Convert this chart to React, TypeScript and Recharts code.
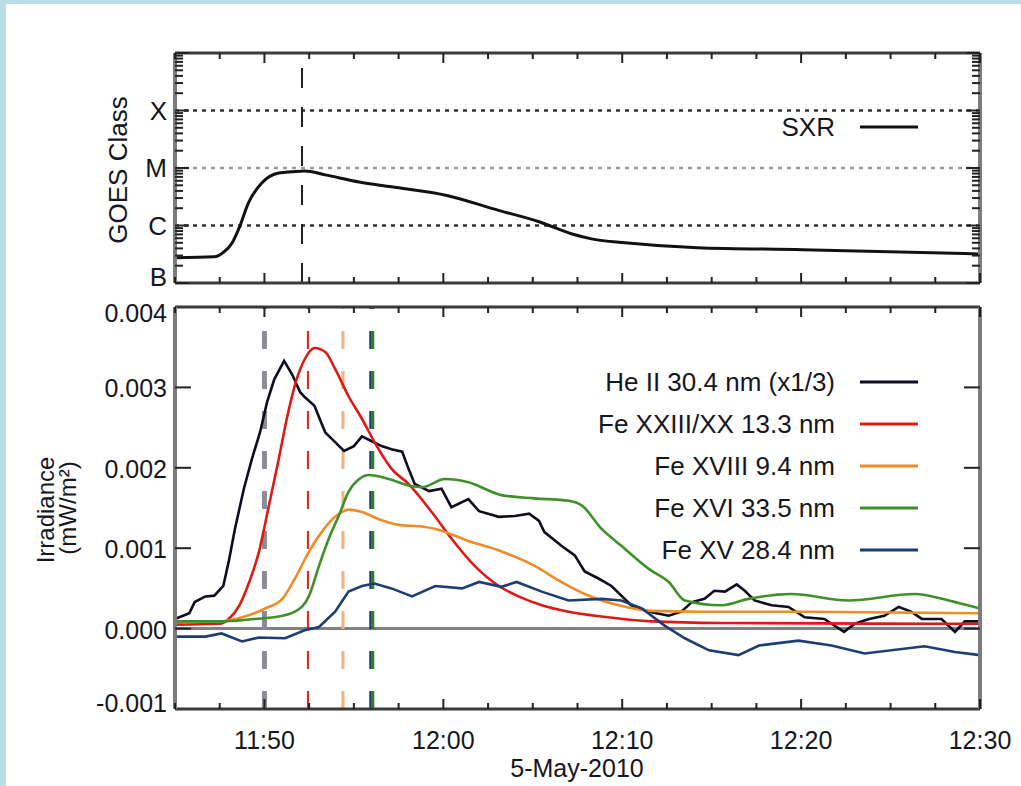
import React from "react";
import { LineChart, Line, XAxis, YAxis, ReferenceLine, Legend } from "recharts";

// time is in minutes after 11:45 UT, 5-May-2010
const timeTicks = [0, 2.5, 5, 7.5, 10, 12.5, 15, 17.5, 20, 22.5, 25, 27.5, 30, 32.5, 35, 37.5, 40, 42.5, 45];
const labelledTimes = [5, 15, 25, 35, 45];
const timeLabels = ["11:50", "12:00", "12:10", "12:20", "12:30"];
const dateLabel = "5-May-2010";

// GOES panel
const goesLevels = [1e-7, 1e-6, 1e-5, 1e-4];
const goesClasses = ["B", "C", "M", "X"];
const goesMinor = [2, 3, 4, 5, 6, 7, 8, 9];
const sxrTime = [0, 2.2, 2.7, 3.2, 3.6, 4.1, 4.85, 5.8, 6.55, 7.25, 8.4, 10.3, 12.1, 15.25, 18.05, 20.4, 22.2, 23.35, 25.15, 29.2, 35.1, 45];
const sxrFlux = [2.75e-7, 2.85e-7, 3.4e-7, 5.0e-7, 9.3e-7, 2.45e-6, 5.5e-6, 8.2e-6, 8.6e-6, 8.9e-6, 7.6e-6, 5.7e-6, 4.7e-6, 3.3e-6, 1.85e-6, 1.15e-6, 7.1e-7, 5.8e-7, 5.0e-7, 4.1e-7, 3.8e-7, 3.2e-7];
const sxrPeakTime = 7.1;

// irradiance panel, [minute, irradiance]
const irrTicks = [-0.001, 0, 0.001, 0.002, 0.003, 0.004];
const heII = [
  [0, 0.00012], [0.8, 0.00019], [1.1, 0.00033], [1.7, 0.0004], [2.2, 0.00041], [2.7, 0.00053], [3.0, 0.00083],
  [3.35, 0.00124], [3.85, 0.00174], [4.3, 0.00211], [4.75, 0.00244], [5.15, 0.00282], [5.55, 0.0031], [6.1, 0.00333],
  [6.55, 0.00316], [7.0, 0.00294], [7.25, 0.00288], [7.8, 0.00277], [8.4, 0.00244], [8.95, 0.00232], [9.45, 0.00221],
  [10.0, 0.00227], [10.45, 0.00239], [11.0, 0.00233], [11.55, 0.00227], [12.1, 0.00223], [12.7, 0.0022], [13.05, 0.00199],
  [13.4, 0.0018], [14.2, 0.00171], [14.9, 0.00174], [15.45, 0.00151], [16.4, 0.00161], [17.0, 0.00146], [18.1, 0.00139],
  [19.0, 0.0014], [19.8, 0.00143], [20.35, 0.00134], [20.65, 0.0012], [21.6, 0.00103], [22.35, 0.00091], [22.9, 0.00071],
  [23.7, 0.00062], [24.4, 0.00053], [24.95, 0.00041], [25.5, 0.00029], [26.5, 0.00021], [27.6, 0.00016], [28.3, 0.00021],
  [28.9, 0.00033], [29.6, 0.00037], [30.15, 0.00047], [30.75, 0.00046], [31.4, 0.00055], [31.85, 0.00047], [32.4, 0.00035],
  [33.35, 0.00029], [34.3, 0.00027], [35.2, 0.00014], [36.3, 0.00012], [37.4, -0.00004], [38.0, 0.00006], [38.8, 0.00012],
  [39.65, 0.00016], [40.45, 0.00027], [41.15, 0.00021], [41.75, 0.00012], [42.85, 0.00012], [43.6, -0.00004], [44.15, 0.00009],
  [45, 0.00009],
];
const feXXIII = [
  [0, 0.00005], [2.5, 0.00006], [3.0, 0.00012], [3.6, 0.00029], [4.15, 0.00058], [4.7, 0.00096], [5.25, 0.00153],
  [5.8, 0.00211], [6.25, 0.00261], [6.8, 0.0031], [7.25, 0.00335], [7.8, 0.00349], [8.4, 0.00344], [8.95, 0.00323],
  [9.7, 0.00289], [10.45, 0.00261], [11.15, 0.00232], [12.1, 0.00199], [13.05, 0.0018], [14.35, 0.00145], [15.45, 0.00112],
  [16.75, 0.00078], [18.1, 0.00053], [19.2, 0.0004], [20.5, 0.00029], [22.0, 0.00021], [23.85, 0.00015], [26.65, 0.00009],
  [30.55, 0.00007], [45, 0.00006],
];
const feXVIII = [
  [0, 0.00009], [2.6, 0.00009], [3.9, 0.00015], [5.05, 0.00025], [6.0, 0.00037], [6.7, 0.00062], [7.5, 0.00096],
  [8.2, 0.0012], [8.95, 0.00139], [9.7, 0.00148], [10.45, 0.00145], [11.4, 0.00136], [12.5, 0.00129], [13.8, 0.00127],
  [14.55, 0.00124], [16.4, 0.00109], [18.25, 0.00096], [20.1, 0.00078], [21.6, 0.00058], [22.9, 0.00043], [24.8, 0.00029],
  [26.65, 0.00022], [29.45, 0.00021], [35, 0.00021], [45, 0.00019],
];
const feXVI = [
  [0, 0.00009], [2.6, 0.00009], [4.45, 0.00012], [5.8, 0.00015], [6.7, 0.00021], [7.5, 0.00041], [8.05, 0.00078],
  [8.6, 0.00112], [9.15, 0.0014], [9.7, 0.0017], [10.3, 0.00186], [10.85, 0.00191], [11.95, 0.00186], [13.25, 0.00177],
  [13.8, 0.00176], [15.1, 0.00186], [16.4, 0.00182], [18.25, 0.00166], [20.1, 0.00162], [22.0, 0.00159], [22.75, 0.00153],
  [23.85, 0.00124], [24.95, 0.00103], [26.5, 0.00074], [27.6, 0.00058], [28.5, 0.00035], [30.55, 0.00029], [32.05, 0.00037],
  [34.45, 0.00043], [37.65, 0.00035], [41.35, 0.00043], [43.25, 0.00035], [45, 0.00025],
];
const feXV = [
  [0, -0.0001], [1.7, -0.0001], [2.6, -0.00006], [3.75, -0.00016], [4.7, -0.00011], [6.15, -0.00012], [7.25, -0.00002],
  [8.05, 0.00002], [8.95, 0.00021], [9.7, 0.00046], [10.45, 0.00053], [11.15, 0.00056], [12.1, 0.0005], [13.25, 0.0004],
  [14.55, 0.00053], [16.05, 0.0005], [17.0, 0.00058], [18.25, 0.00052], [19.1, 0.00058], [20.5, 0.00046], [22.0, 0.00035],
  [23.85, 0.00037], [24.95, 0.00035], [26.1, 0.00025], [27.35, 0.00004], [28.5, -0.00012], [29.85, -0.00027], [31.5, -0.00033],
  [32.65, -0.00021], [34.85, -0.00015], [36.7, -0.00021], [38.55, -0.00031], [41.9, -0.00022], [43.6, -0.00029], [45, -0.00033],
];
const lineNames = ["He II 30.4 nm (x1/3)", "Fe XXIII/XX 13.3 nm", "Fe XVIII 9.4 nm", "Fe XVI 33.5 nm", "Fe XV 28.4 nm"];
// times of the line peaks marked with dashed lines
const peakTimes = { heII: 5, feXXIII: 7.43, feXVIII: 9.39, feXV: 10.93, feXVI: 11.07 };

const FONT = "'Liberation Sans', Arial, Helvetica, sans-serif";
const INK = "#161622";
const W = 1021;
const TOP_H = 296; // top panel chart height, bottom panel starts here
const LEFT = 175;
const RIGHT_W = 41;

const toRows = (pts: number[][]) => pts.map(([t, v]) => ({ t, v }));
const sxrData = sxrTime.map((t, i) => ({ t, v: sxrFlux[i] }));
const goesTicks = [
  ...goesLevels.flatMap((d) => [d, ...goesMinor.map((k) => k * d)]),
  1e-3,
];

const timeLabel = (t: number) => {
  const i = labelledTimes.indexOf(t);
  return i >= 0 ? timeLabels[i] : "";
};

const TimeTick = (props: any) => {
  const { x, y, payload, side, showLabel } = props;
  const label = timeLabel(payload.value);
  const len = label ? 10 : 6;
  const dir = side === "bottom" ? -1 : 1;
  return (
    <g>
      <line x1={x} x2={x} y1={y} y2={y + dir * len} stroke="#222" strokeWidth={2} />
      {showLabel && label ? (
        <text x={x} y={y + 40} textAnchor="middle" fontSize={25} fontFamily={FONT} fill={INK}>
          {label}
        </text>
      ) : null}
    </g>
  );
};

const GoesTick = (props: any) => {
  const { x, y, payload, side } = props;
  const v = payload.value;
  const i = goesLevels.findIndex((l) => Math.abs(l - v) / l < 1e-6);
  const major = i >= 0 || Math.abs(v - 1e-3) < 1e-9;
  const dir = side === "left" ? 1 : -1;
  return (
    <g>
      <line x1={x} x2={x + dir * (major ? 14 : 8)} y1={y} y2={y} stroke="#222" strokeWidth={2} />
      {side === "left" && i >= 0 ? (
        <text x={x - 8} y={y + (i === 0 ? -6 : 0)} dy="0.36em" textAnchor="end" fontSize={26} fontFamily={FONT} fill={INK}>
          {goesClasses[i]}
        </text>
      ) : null}
    </g>
  );
};

const IrrTick = (props: any) => {
  const { x, y, payload, side } = props;
  const v = payload.value;
  const dir = side === "left" ? 1 : -1;
  const shift = v > 0.0039 ? 6 : v < -0.0009 ? -6 : 1;
  const edge = v > 0.0039 || v < -0.0009;
  return (
    <g>
      {!edge ? <line x1={x} x2={x + dir * 16} y1={y} y2={y} stroke="#222" strokeWidth={2} /> : null}
      {side === "left" ? (
        <text x={x - 8} y={y + shift} dy="0.36em" textAnchor="end" fontSize={25} fontFamily={FONT} fill={INK}>
          {v.toFixed(3)}
        </text>
      ) : null}
    </g>
  );
};

const LegendBox = (props: any) => {
  const items = [...(props.payload || [])].sort(
    (a: any, b: any) => lineNames.indexOf(a.value) - lineNames.indexOf(b.value)
  );
  return (
    <div style={{ position: "relative", width: 380, height: items.length * 42 }}>
      {items.map((e: any, i: number) => (
        <div key={i} style={{ position: "absolute", left: 0, top: i * 42, height: 42, width: 380, display: "flex", alignItems: "center" }}>
          <span style={{ width: 275, textAlign: "right", whiteSpace: "nowrap", fontFamily: FONT, fontSize: 26, color: INK }}>
            {e.value}
          </span>
          <svg width={90} height={42}>
            <line x1={25} x2={83} y1={21} y2={21} stroke={e.color} strokeWidth={3} />
          </svg>
        </div>
      ))}
    </div>
  );
};

const frameX = { stroke: "#3a3a3a", strokeWidth: 3 };
const frameY = { stroke: "#7c7c7c", strokeWidth: 4 };

export default function App() {
  return (
    <div style={{ position: "absolute", left: 0, top: 0, width: W, height: 786, background: "#badee8", overflow: "hidden" }}>
      <div style={{ position: "absolute", left: 6, top: 4, width: W - 6, height: 782, background: "#ffffff" }} />

      {/* GOES soft X-ray panel */}
      <div style={{ position: "absolute", left: 0, top: 0 }}>
        <LineChart width={W} height={TOP_H} margin={{ top: 0, right: 0, bottom: 0, left: 0 }}>
          <XAxis xAxisId="t" orientation="top" type="number" dataKey="t" domain={[0, 45]} ticks={timeTicks} interval={0}
            allowDataOverflow height={53} tickSize={0} tickMargin={0} axisLine={frameX}
            tick={(p: any) => <TimeTick {...p} side="top" />} />
          <XAxis xAxisId="b" orientation="bottom" type="number" dataKey="t" domain={[0, 45]} ticks={timeTicks} interval={0}
            allowDataOverflow height={TOP_H - 283} tickSize={0} tickMargin={0} axisLine={frameX}
            tick={(p: any) => <TimeTick {...p} side="bottom" />} />
          <YAxis yAxisId="l" orientation="left" type="number" scale="log" domain={[1e-7, 1e-3]} ticks={goesTicks} interval={0}
            allowDataOverflow width={LEFT} tickSize={0} tickMargin={0} axisLine={frameY}
            tick={(p: any) => <GoesTick {...p} side="left" />}
            label={() => (
              <text x={118} y={170} transform="rotate(-90 118 170)" textAnchor="middle" dominantBaseline="central"
                fontSize={26} fontFamily={FONT} fill={INK}>GOES Class</text>
            )} />
          <YAxis yAxisId="r" orientation="right" type="number" scale="log" domain={[1e-7, 1e-3]} ticks={goesTicks} interval={0}
            allowDataOverflow width={RIGHT_W} tickSize={0} tickMargin={0} axisLine={frameY}
            tick={(p: any) => <GoesTick {...p} side="right" />} />
          {goesLevels.slice(1).map((lv, i) => (
            <ReferenceLine key={lv} xAxisId="b" yAxisId="l" y={lv} stroke={i === 1 ? "#9a9a9a" : "#333"}
              strokeWidth={2.5} strokeDasharray="4 5" />
          ))}
          <ReferenceLine xAxisId="b" yAxisId="l" x={sxrPeakTime} stroke="#222" strokeWidth={2} strokeDasharray="20 19" />
          <Line xAxisId="b" yAxisId="l" data={sxrData} dataKey="v" name="SXR" type="monotone" stroke="#111"
            strokeWidth={3} dot={false} isAnimationActive={false} />
          <Legend layout="horizontal" verticalAlign="middle" align="center" width={380}
            wrapperStyle={{ left: 560, top: 106 }} content={<LegendBox />} />
        </LineChart>
      </div>

      {/* EVE irradiance panel */}
      <div style={{ position: "absolute", left: 0, top: TOP_H }}>
        <LineChart width={W} height={786 - TOP_H} margin={{ top: 0, right: 0, bottom: 0, left: 0 }}>
          <XAxis xAxisId="t" orientation="top" type="number" dataKey="t" domain={[0, 45]} ticks={timeTicks} interval={0}
            allowDataOverflow height={307 - TOP_H} tickSize={0} tickMargin={0} axisLine={frameX}
            tick={(p: any) => <TimeTick {...p} side="top" />} />
          <XAxis xAxisId="b" orientation="bottom" type="number" dataKey="t" domain={[0, 45]} ticks={timeTicks} interval={0}
            allowDataOverflow height={77} tickSize={0} tickMargin={0} axisLine={frameX}
            tick={(p: any) => <TimeTick {...p} side="bottom" showLabel />}
            label={() => (
              <text x={577} y={777 - TOP_H} textAnchor="middle" fontSize={25} fontFamily={FONT} fill={INK}>{dateLabel}</text>
            )} />
          <YAxis yAxisId="l" orientation="left" type="number" domain={[-0.001, 0.004]} ticks={irrTicks} interval={0}
            allowDataOverflow width={LEFT} tickSize={0} tickMargin={0} axisLine={frameY}
            tick={(p: any) => <IrrTick {...p} side="left" />}
            label={() => (
              <g fontSize={24} fontFamily={FONT} fill={INK}>
                <text x={45} y={510 - TOP_H} transform={`rotate(-90 45 ${510 - TOP_H})`} textAnchor="middle" dominantBaseline="central">Irradiance</text>
                <text x={67} y={508 - TOP_H} transform={`rotate(-90 67 ${508 - TOP_H})`} textAnchor="middle" dominantBaseline="central">(mW/m²)</text>
              </g>
            )} />
          <YAxis yAxisId="r" orientation="right" type="number" domain={[-0.001, 0.004]} ticks={irrTicks} interval={0}
            allowDataOverflow width={RIGHT_W} tickSize={0} tickMargin={0} axisLine={frameY}
            tick={(p: any) => <IrrTick {...p} side="right" />} />
          <ReferenceLine xAxisId="b" yAxisId="l" y={0} stroke="#808080" strokeWidth={3} />
          <ReferenceLine xAxisId="b" yAxisId="l" x={peakTimes.heII} stroke="#8c8c98" strokeWidth={5} strokeDasharray="18 22" />
          <ReferenceLine xAxisId="b" yAxisId="l" x={peakTimes.feXXIII} stroke="#d8231c" strokeWidth={2} strokeDasharray="18 22" />
          <ReferenceLine xAxisId="b" yAxisId="l" x={peakTimes.feXVIII} stroke="#f4b27e" strokeWidth={3} strokeDasharray="18 22" />
          <ReferenceLine xAxisId="b" yAxisId="l" x={peakTimes.feXV} stroke="#1e3d72" strokeWidth={2.5} strokeDasharray="18 22" />
          <ReferenceLine xAxisId="b" yAxisId="l" x={peakTimes.feXVI} stroke="#2f7f22" strokeWidth={2.5} strokeDasharray="18 22" />
          <Line xAxisId="b" yAxisId="l" data={toRows(heII)} dataKey="v" name={lineNames[0]} type="linear"
            stroke="#0d0d1f" strokeWidth={2.6} dot={false} isAnimationActive={false} />
          <Line xAxisId="b" yAxisId="l" data={toRows(feXXIII)} dataKey="v" name={lineNames[1]} type="monotone"
            stroke="#dd1a14" strokeWidth={2.6} dot={false} isAnimationActive={false} />
          <Line xAxisId="b" yAxisId="l" data={toRows(feXVIII)} dataKey="v" name={lineNames[2]} type="monotone"
            stroke="#f08c28" strokeWidth={2.6} dot={false} isAnimationActive={false} />
          <Line xAxisId="b" yAxisId="l" data={toRows(feXVI)} dataKey="v" name={lineNames[3]} type="monotone"
            stroke="#3f8f2a" strokeWidth={2.6} dot={false} isAnimationActive={false} />
          <Line xAxisId="b" yAxisId="l" data={toRows(feXV)} dataKey="v" name={lineNames[4]} type="linear"
            stroke="#1e3d72" strokeWidth={2.6} dot={false} isAnimationActive={false} />
          <Legend layout="horizontal" verticalAlign="middle" align="center" width={380}
            wrapperStyle={{ left: 560, top: 361 - TOP_H }} content={<LegendBox />} />
        </LineChart>
      </div>
    </div>
  );
}
